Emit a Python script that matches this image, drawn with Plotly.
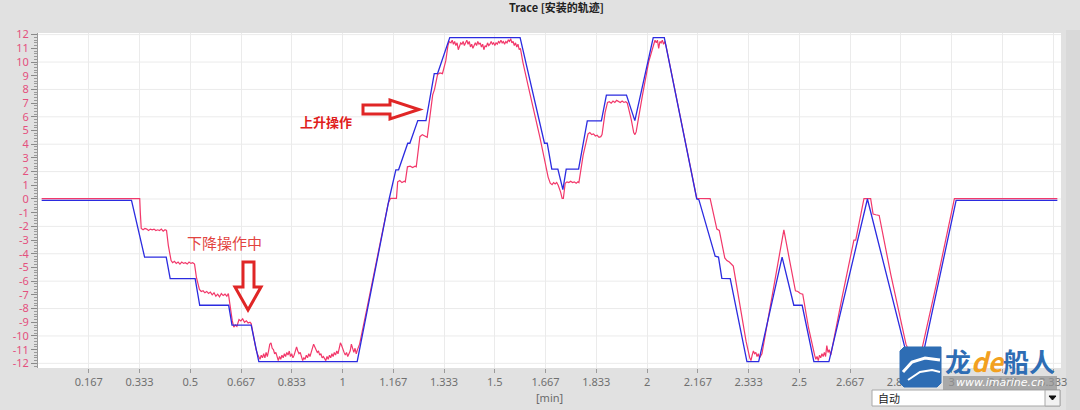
import plotly.graph_objects as go

# ---------------- data (time in minutes, position) ----------------
blue_t = [0.012, 0.307, 0.350, 0.421, 0.434, 0.516, 0.531, 0.626, 0.637, 0.700, 0.725,
          1.048, 1.153, 1.175, 1.184, 1.214, 1.221, 1.247, 1.274, 1.301, 1.312, 1.352,
          1.583, 1.663, 1.672, 1.687, 1.707, 1.7234, 1.7344, 1.775, 1.8036, 1.8498,
          1.8663, 1.9322, 1.9597, 2.0201, 2.0564, 2.163, 2.170, 2.2234, 2.2344, 2.2454,
          2.2729, 2.3278, 2.3663, 2.4432, 2.4817, 2.5091, 2.5476, 2.597, 2.7234, 2.858,
          2.901, 3.0146, 3.347]
blue_v = [-0.1, -0.1, -4.24, -4.24, -5.82, -5.82, -7.76, -7.76, -9.21, -9.21, -11.88,
          -11.88, 0.0, 2.13, 2.13, 4.07, 4.07, 5.72, 5.72, 9.16, 9.16, 11.78,
          11.78, 4.07, 4.07, 2.18, 2.18, 0.68, 2.18, 2.18, 5.7, 5.7,
          7.59, 7.59, 5.72, 11.78, 11.78, 0.0, -0.05, -4.17, -4.24, -5.8,
          -5.82, -11.88, -11.88, -4.24, -7.76, -7.76, -11.88, -11.88, 0.0, -11.88,
          -11.88, -0.1, -0.1]

red_points = [
    (0.012, 0.03), (0.334, 0.03), (0.336, -1.0), (0.339, -2.15),
    (0.345, -2.25), (0.351, -2.15), (0.357, -2.2), (0.363, -2.3), (0.369, -2.2), (0.375, -2.25),
    (0.381, -2.2), (0.387, -2.3), (0.393, -2.25), (0.399, -2.3), (0.405, -2.2), (0.411, -2.35),
    (0.417, -2.25), (0.422, -2.3),
    (0.428, -3.4), (0.437, -4.5), (0.442, -4.65),
    (0.448, -4.55), (0.454, -4.7), (0.460, -4.6), (0.466, -4.75), (0.472, -4.6), (0.478, -4.7),
    (0.484, -4.65), (0.490, -4.75), (0.496, -4.6), (0.502, -4.7), (0.508, -4.65), (0.514, -4.75),
    (0.520, -5.7), (0.530, -6.6), (0.536, -6.75),
    (0.542, -6.7), (0.548, -6.85), (0.554, -6.75), (0.560, -6.9), (0.566, -6.8), (0.572, -7.0),
    (0.578, -6.85), (0.584, -7.1), (0.590, -6.95), (0.596, -7.15), (0.602, -6.9), (0.608, -7.05),
    (0.614, -6.95), (0.620, -7.1), (0.625, -6.9),
    (0.630, -7.8), (0.638, -8.9), (0.643, -9.35), (0.648, -9.2), (0.653, -9.3),
    (0.660, -8.8), (0.666, -8.9), (0.672, -8.75), (0.678, -9.0), (0.684, -8.9), (0.690, -9.05),
    (0.696, -9.0), (0.700, -9.1),
    (0.708, -10.2), (0.716, -11.0), (0.722, -11.4),
    (0.725, -11.5), (0.729, -11.7), (0.733, -11.4), (0.737, -11.6), (0.741, -11.3), (0.745, -11.6),
    (0.749, -11.2), (0.753, -11.5), (0.757, -11.1), (0.761, -10.6), (0.765, -10.5), (0.769, -10.9),
    (0.773, -11.0), (0.777, -11.3), (0.781, -11.2), (0.785, -11.6), (0.789, -11.8), (0.793, -11.5),
    (0.797, -11.7), (0.801, -11.4), (0.805, -11.6), (0.809, -11.3), (0.813, -11.5), (0.817, -11.2),
    (0.821, -11.4), (0.825, -11.1), (0.829, -11.5), (0.833, -11.3), (0.837, -11.6), (0.841, -11.4),
    (0.845, -11.0), (0.849, -10.8), (0.853, -11.1), (0.857, -11.3), (0.861, -11.2), (0.865, -11.5),
    (0.869, -11.8), (0.873, -11.6), (0.877, -11.7), (0.881, -11.4), (0.885, -11.6), (0.889, -11.3),
    (0.893, -11.5), (0.897, -11.2), (0.901, -10.9), (0.905, -10.6), (0.909, -10.8), (0.913, -11.0),
    (0.917, -11.2), (0.921, -11.1), (0.925, -11.4), (0.929, -11.3), (0.933, -11.6), (0.937, -11.5),
    (0.941, -11.7), (0.945, -11.8), (0.949, -11.5), (0.953, -11.7), (0.957, -11.4), (0.961, -11.6),
    (0.965, -11.3), (0.969, -11.5), (0.973, -11.2), (0.977, -11.4), (0.981, -11.1), (0.985, -11.3),
    (0.989, -10.9), (0.993, -10.5), (0.997, -10.7), (1.001, -11.0), (1.005, -11.2), (1.009, -11.4),
    (1.013, -11.2), (1.017, -11.5), (1.021, -11.3), (1.025, -11.1), (1.029, -10.6), (1.033, -10.9),
    (1.037, -11.2), (1.041, -10.9), (1.045, -11.3), (1.049, -11.0),
    (1.056, -10.6), (1.080, -8.0), (1.110, -4.6), (1.135, -1.8), (1.150, -0.3), (1.158, 0.05),
    (1.177, 0.05), (1.181, 1.25), (1.188, 1.35), (1.195, 1.2), (1.203, 1.3), (1.206, 1.25),
    (1.213, 2.35), (1.222, 2.4), (1.230, 2.3), (1.238, 2.4), (1.242, 2.35),
    (1.254, 4.55), (1.262, 4.7), (1.270, 4.6), (1.278, 4.5),
    (1.296, 7.6), (1.302, 8.0), (1.312, 9.1), (1.320, 9.2), (1.328, 9.15), (1.339, 10.1),
    (1.346, 11.2), (1.350, 11.5),
    (1.356, 11.4), (1.360, 11.6), (1.364, 11.3), (1.368, 11.5), (1.372, 11.2), (1.376, 11.4),
    (1.380, 10.9), (1.384, 11.1), (1.388, 11.4), (1.392, 11.3), (1.396, 11.5), (1.400, 11.2),
    (1.404, 11.4), (1.408, 11.6), (1.412, 11.3), (1.416, 11.5), (1.420, 11.1), (1.424, 11.3),
    (1.428, 11.0), (1.432, 11.2), (1.436, 11.4), (1.440, 11.2), (1.444, 11.5), (1.448, 11.3),
    (1.452, 11.4), (1.456, 11.1), (1.460, 11.3), (1.464, 10.9), (1.468, 11.2), (1.472, 11.1),
    (1.476, 11.4), (1.480, 11.2), (1.484, 11.3), (1.488, 11.5), (1.492, 11.3), (1.496, 11.4),
    (1.500, 11.2), (1.504, 11.4), (1.508, 11.3), (1.512, 11.5), (1.516, 11.4), (1.520, 11.6),
    (1.524, 11.4), (1.528, 11.5), (1.532, 11.3), (1.536, 11.5), (1.540, 11.4), (1.544, 11.6),
    (1.548, 11.5), (1.552, 11.7), (1.556, 11.4), (1.560, 11.5), (1.564, 11.2), (1.568, 11.4),
    (1.572, 11.1), (1.576, 11.3), (1.580, 10.9), (1.584, 11.0),
    (1.592, 10.0), (1.610, 8.2), (1.630, 6.3), (1.648, 4.5), (1.662, 3.0), (1.675, 1.6),
    (1.682, 1.15), (1.688, 1.05), (1.693, 1.2), (1.698, 1.1), (1.703, 1.2), (1.708, 1.0),
    (1.716, 0.5), (1.721, 0.05), (1.725, 0.05),
    (1.731, 1.15), (1.737, 1.25), (1.743, 1.2), (1.749, 1.3), (1.755, 1.2), (1.761, 1.25),
    (1.767, 1.15), (1.773, 1.25), (1.776, 1.2),
    (1.790, 3.2), (1.806, 4.75), (1.812, 4.85), (1.818, 4.7), (1.824, 4.75), (1.830, 4.6),
    (1.836, 4.65), (1.842, 4.5), (1.848, 4.55), (1.852, 4.7),
    (1.862, 6.3), (1.870, 7.05), (1.876, 7.1), (1.882, 7.0), (1.888, 7.15), (1.894, 7.05),
    (1.900, 7.2), (1.906, 7.1), (1.912, 7.05), (1.918, 7.15), (1.924, 7.05), (1.930, 7.1),
    (1.935, 7.0),
    (1.948, 5.8), (1.956, 4.85), (1.960, 4.7), (1.964, 4.9),
    (1.985, 7.6), (2.005, 10.0), (2.022, 11.3), (2.026, 11.6), (2.030, 11.4), (2.034, 11.6),
    (2.038, 11.0), (2.042, 11.5), (2.046, 11.4), (2.050, 11.6), (2.054, 11.3), (2.058, 11.5),
    (2.062, 11.2),
    (2.080, 9.2), (2.105, 6.4), (2.130, 3.6), (2.150, 1.4), (2.163, 0.05), (2.207, 0.03),
    (2.222, -1.6), (2.229, -2.2), (2.237, -2.3), (2.255, -4.3), (2.262, -4.5), (2.270, -4.6),
    (2.283, -4.9),
    (2.305, -7.7), (2.325, -10.4), (2.337, -11.6),
    (2.341, -11.8), (2.345, -11.4), (2.349, -11.1), (2.353, -11.3), (2.357, -11.2), (2.361, -11.5),
    (2.365, -11.3), (2.369, -11.6), (2.373, -11.4), (2.377, -11.3),
    (2.400, -8.4), (2.425, -5.2), (2.449, -2.25),
    (2.468, -4.5), (2.487, -6.7), (2.495, -6.75), (2.503, -6.9), (2.511, -6.95),
    (2.530, -9.4), (2.550, -11.4), (2.554, -11.7),
    (2.558, -11.5), (2.562, -11.8), (2.566, -11.4), (2.570, -11.6), (2.574, -11.3), (2.578, -11.5),
    (2.582, -11.2), (2.586, -11.5), (2.590, -10.7), (2.594, -11.2), (2.598, -11.0), (2.603, -11.4),
    (2.640, -7.2), (2.679, -3.0), (2.685, -3.0), (2.698, -1.5), (2.712, 0.03), (2.734, 0.03),
    (2.742, -1.1), (2.751, -1.15), (2.762, -1.2),
    (2.800, -5.5), (2.850, -10.6), (2.870, -11.6), (2.875, -11.7),
    (2.880, -11.5), (2.885, -11.8), (2.890, -11.6), (2.895, -11.7),
    (2.950, -6.2), (2.980, -3.1), (3.009, 0.03), (3.347, 0.03),
]
red_t = [p[0] for p in red_points]
red_v = [p[1] for p in red_points]

x_tick_labels = ["0.167", "0.333", "0.5", "0.667", "0.833", "1", "1.167", "1.333", "1.5",
                 "1.667", "1.833", "2", "2.167", "2.333", "2.5", "2.667", "2.833", "3",
                 "3.167", "3.333"]
x_tick_vals = [(k + 1) / 6 for k in range(len(x_tick_labels))]
y_tick_vals = list(range(-12, 13))
y_tick_labels = [str(v) for v in y_tick_vals]
grid_y = list(range(-12, 13, 2))

# ---------------- layout helpers (pixel -> paper) ----------------
L, R, T, B = 38, 1061, 33, 368


def px(x):
    return (x - L) / (R - L)


def py(y):
    return (B - y) / (B - T)


def path(pts, close=True):
    s = "M " + " L ".join(f"{px(x):.5f},{py(y):.5f}" for x, y in pts)
    return s + (" Z" if close else "")


fig = go.Figure()
fig.add_trace(go.Scatter(x=red_t, y=red_v, mode="lines",
                         line=dict(color="#f2386a", width=1.2),
                         showlegend=False, hoverinfo="skip"))
fig.add_trace(go.Scatter(x=blue_t, y=blue_v, mode="lines",
                         line=dict(color="#2b2be0", width=1.3),
                         showlegend=False, hoverinfo="skip"))

shapes = []
for g in grid_y:
    shapes.append(dict(type="line", xref="paper", yref="y", x0=0, x1=1, y0=g, y1=g,
                       line=dict(color="#ebebeb", width=1), layer="below"))

red_arrow = "#e02626"
# down arrow (hollow)
shapes.append(dict(type="path", xref="paper", yref="paper", layer="above",
                   path=path([(243, 262), (254, 262), (254, 287), (261, 287), (248, 310),
                              (235, 287), (243, 287)]),
                   line=dict(color=red_arrow, width=3), fillcolor="rgba(255,255,255,0)"))
# right arrow (hollow)
shapes.append(dict(type="path", xref="paper", yref="paper", layer="above",
                   path=path([(363, 105), (390, 105), (390, 100), (419, 109.5), (390, 119),
                              (390, 114), (363, 114)]),
                   line=dict(color=red_arrow, width=3), fillcolor="rgba(255,255,255,0)"))

# right-side strip
shapes.append(dict(type="rect", xref="paper", yref="paper", layer="below",
                   x0=px(1066), x1=px(1081), y0=py(412), y1=py(30),
                   fillcolor="#d9d9d9", line=dict(width=0)))

# dropdown box
shapes.append(dict(type="rect", xref="paper", yref="paper", layer="above",
                   x0=px(872), x1=px(1060), y0=py(406), y1=py(390),
                   fillcolor="white", line=dict(color="#a8a8a8", width=1)))
shapes.append(dict(type="rect", xref="paper", yref="paper", layer="above",
                   x0=px(1045), x1=px(1060), y0=py(406), y1=py(390),
                   fillcolor="#f2f2f2", line=dict(color="#a8a8a8", width=1)))
shapes.append(dict(type="path", xref="paper", yref="paper", layer="above",
                   path=path([(1049, 396), (1056, 396), (1052.5, 400)]),
                   fillcolor="#111", line=dict(color="#111", width=1)))

# watermark logo
shapes.append(dict(type="path", xref="paper", yref="paper", layer="above",
                   path=path([(904, 347), (941, 347), (941, 383), (937, 387), (904, 387),
                              (900, 383), (900, 351)]),
                   fillcolor="#2e6db4", line=dict(color="#2e6db4", width=1)))
shapes.append(dict(type="path", xref="paper", yref="paper", layer="above",
                   path=path([(903, 372), (912, 362), (925, 358), (940, 360)], close=False),
                   line=dict(color="white", width=3)))
shapes.append(dict(type="path", xref="paper", yref="paper", layer="above",
                   path=path([(908, 380), (920, 372), (932, 370), (940, 372)], close=False),
                   line=dict(color="white", width=2)))
shapes.append(dict(type="rect", xref="paper", yref="paper", layer="above",
                   x0=px(943), x1=px(1057), y0=py(390), y1=py(376),
                   fillcolor="rgba(150,150,150,0.75)", line=dict(width=0)))

annotations = [
    dict(text="<b>Trace [安装的轨迹]</b>", x=px(556), y=py(7), xref="paper", yref="paper",
         showarrow=False, xanchor="center", yanchor="middle",
         font=dict(family="Noto Sans CJK SC", size=11, color="#222")),
    dict(text="[min]", x=px(549), y=py(397), xref="paper", yref="paper",
         showarrow=False, xanchor="center", yanchor="middle",
         font=dict(family="Noto Sans", size=11, color="#6a6a6a")),
    dict(text="下降操作中", x=px(224), y=py(242), xref="paper", yref="paper",
         showarrow=False, xanchor="center", yanchor="middle",
         font=dict(family="Noto Sans CJK SC", size=15, color="#e2443f")),
    dict(text="<b>上升操作</b>", x=px(326), y=py(121), xref="paper", yref="paper",
         showarrow=False, xanchor="center", yanchor="middle",
         font=dict(family="Noto Sans CJK SC", size=13, color="#e0201c")),
    dict(text="自动", x=px(876), y=py(398), xref="paper", yref="paper",
         showarrow=False, xanchor="left", yanchor="middle",
         font=dict(family="Noto Sans CJK SC", size=11, color="#222")),
    dict(text='<b><span style="color:#2e6db4">龙</span><i><span style="color:#f2a020">de</span></i>'
              '<span style="color:#2e6db4">船人</span></b>',
         x=px(1000), y=py(360), xref="paper", yref="paper",
         showarrow=False, xanchor="center", yanchor="middle",
         font=dict(family="Noto Sans CJK SC", size=26, color="#2e6db4")),
    dict(text="<i>www.imarine.cn</i>", x=px(1000), y=py(383), xref="paper", yref="paper",
         showarrow=False, xanchor="center", yanchor="middle",
         font=dict(family="DejaVu Sans", size=11, color="white")),
]

fig.update_layout(
    width=1080, height=410,
    margin=dict(l=L, r=1080 - R, t=T, b=410 - B, pad=0),
    paper_bgcolor="#e1e1e1", plot_bgcolor="white",
    showlegend=False,
    font=dict(family="Noto Sans", size=11, color="#6a6a6a"),
    shapes=shapes, annotations=annotations,
    xaxis=dict(range=[0, 3.359], tickmode="array", tickvals=x_tick_vals, ticktext=x_tick_labels,
               ticks="outside", ticklen=4, tickcolor="#9a9a9a", showgrid=True,
               gridcolor="#ebebeb", gridwidth=1, zeroline=False, showline=False,
               tickfont=dict(family="Noto Sans", size=11, color="#707070"), automargin=False),
    yaxis=dict(range=[-12.34, 12.12], tickmode="array", tickvals=y_tick_vals,
               ticktext=y_tick_labels, ticks="outside", ticklen=6, tickcolor="#8a8a8a",
               showline=True, linecolor="#9a9a9a", linewidth=1, showgrid=False,
               zeroline=False, tickfont=dict(family="Noto Sans", size=11, color="#e4507e"),
               minor=dict(tickmode="linear", tick0=0, dtick=0.2, ticks="outside", ticklen=3,
                          tickcolor="#9a9a9a", showgrid=False),
               automargin=False),
)

fig.write_html("out.html", config={"displayModeBar": False},
               post_script="document.body.style.margin='0';document.body.style.overflow='hidden';")
